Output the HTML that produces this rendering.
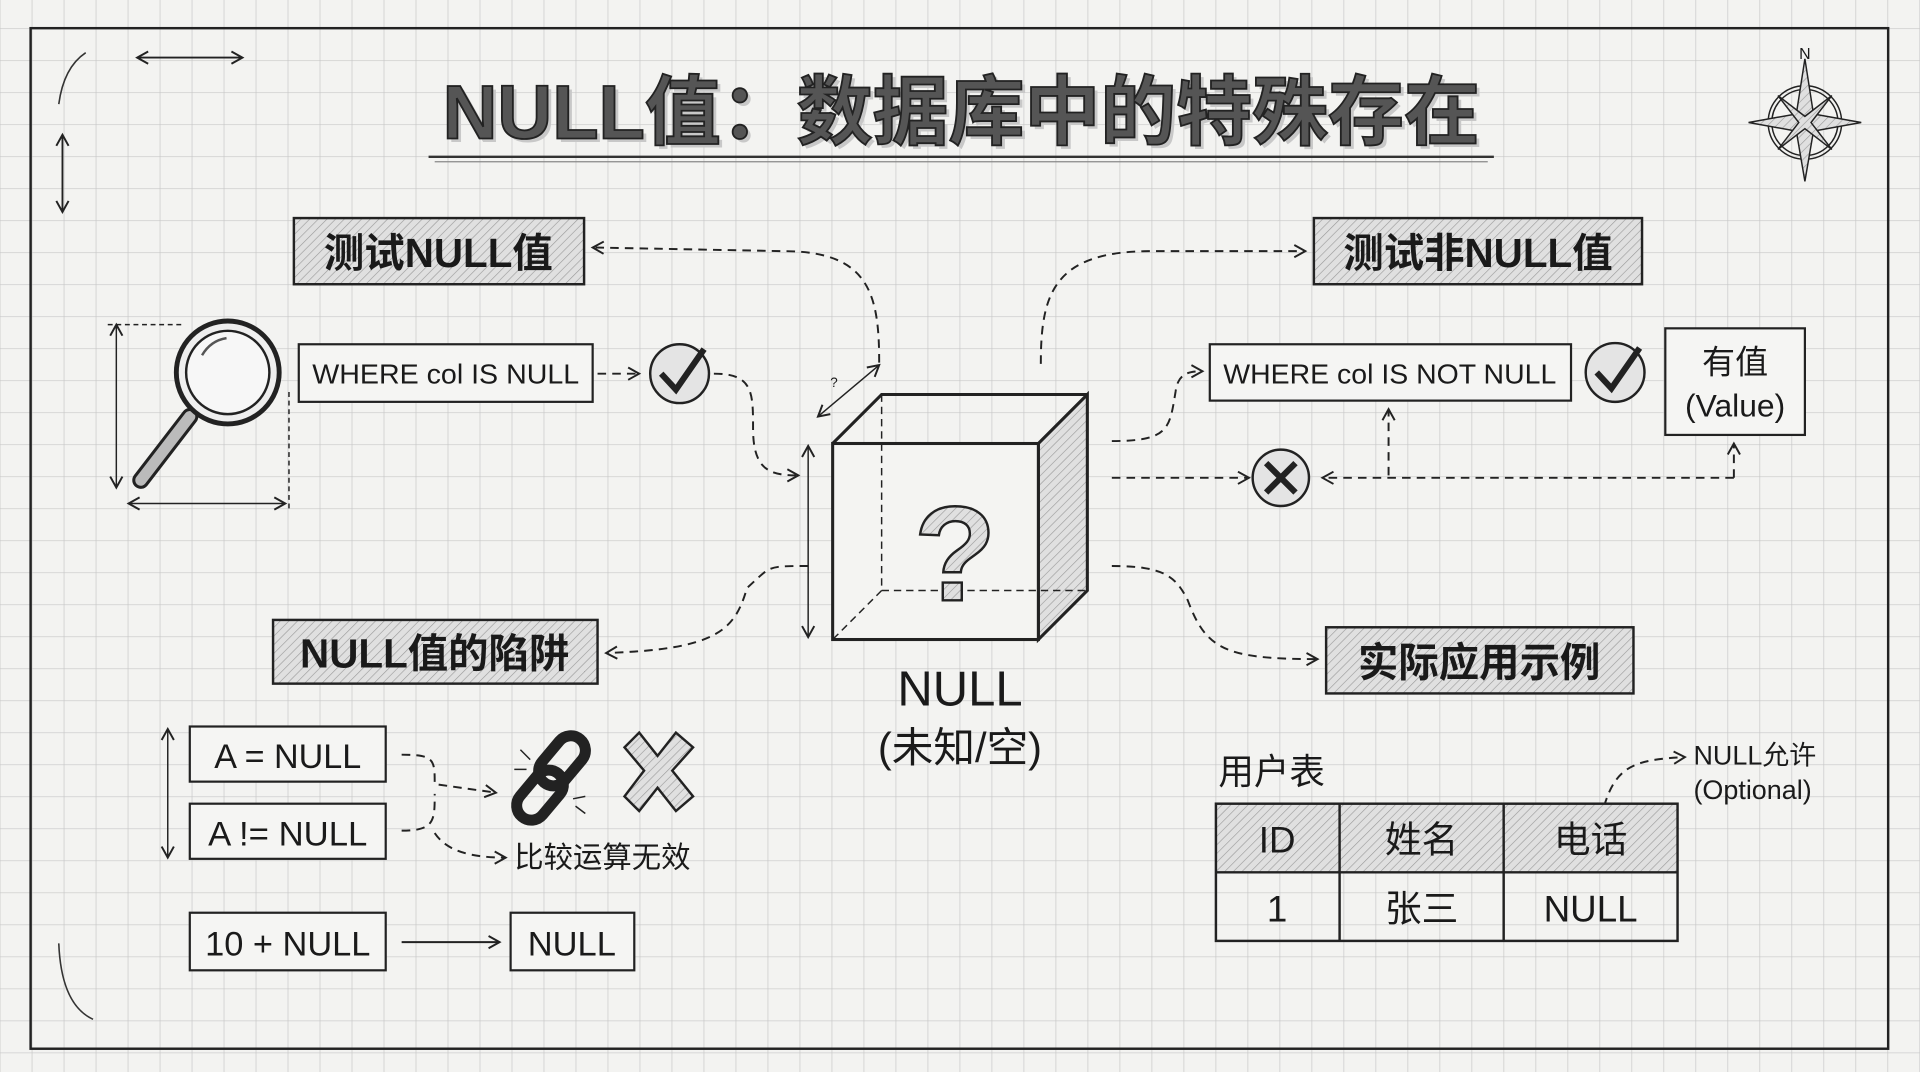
<!DOCTYPE html>
<html><head><meta charset="utf-8"><style>
html,body{margin:0;padding:0;width:1920px;height:1072px;overflow:hidden;background:#f2f2f0}
svg{display:block}
text{font-family:"Liberation Sans","Noto Sans CJK SC",sans-serif;fill:#1a1a1a}
</style></head><body>
<svg width="1920" height="1072" viewBox="0 0 1568 875" preserveAspectRatio="none" xmlns="http://www.w3.org/2000/svg">
<defs>
<pattern id="grid" x="25.9" y="23" width="26.13" height="26.13" patternUnits="userSpaceOnUse">
<path d="M0 0H26.13M0 0V26.13" stroke="#c6c6c6" stroke-width="1.1" fill="none"/>
</pattern>
<pattern id="hatch" width="5" height="5" patternUnits="userSpaceOnUse" patternTransform="rotate(45)">
<rect width="5" height="5" fill="#e0e0e0"/><line x1="0" y1="0" x2="0" y2="5" stroke="#999" stroke-width="1"/>
</pattern>
<marker id="ar" markerWidth="12" markerHeight="12" refX="10" refY="6" orient="auto-start-reverse" markerUnits="userSpaceOnUse">
<path d="M1 1L10 6L1 11" fill="none" stroke="#222" stroke-width="1.6"/>
</marker>
</defs>
<rect width="1568" height="875" fill="#f3f3f1"/>
<rect width="1568" height="875" fill="url(#grid)"/>
<rect x="25" y="23" width="1517" height="833" fill="none" stroke="#222" stroke-width="2"/>
<path d="M70 43 Q52 55 48 85" fill="none" stroke="#333" stroke-width="1.3"/>
<line x1="112" y1="47" x2="198" y2="47" stroke="#222" stroke-width="1.5" marker-end="url(#ar)" marker-start="url(#ar)"/>
<line x1="51" y1="110" x2="51" y2="173" stroke="#222" stroke-width="1.5" marker-end="url(#ar)" marker-start="url(#ar)"/>
<path d="M48 770 Q50 820 76 832" fill="none" stroke="#333" stroke-width="1.3"/>
<text x="785" y="113" font-size="62" font-weight="bold" text-anchor="middle" style="fill:#c8c8c8" dx="3" dy="3">NULL值：数据库中的特殊存在</text>
<text x="785" y="113" font-size="62" font-weight="bold" text-anchor="middle" style="fill:#555;stroke:#222;stroke-width:1.5">NULL值：数据库中的特殊存在</text>
<line x1="350" y1="128" x2="1220" y2="128" stroke="#333" stroke-width="2"/>
<line x1="355" y1="132" x2="1215" y2="132" stroke="#888" stroke-width="1"/>
<g transform="translate(1474,100)" stroke="#222" stroke-width="1.2">
<circle r="30" fill="none"/><circle r="27" fill="none"/>
<path d="M0 -52 L7 -7 L46 0 L7 7 L0 48 L-7 7 L-46 0 L-7 -7Z" fill="url(#hatch)"/>
<path d="M-22 -22 L0 -5 L22 -22 L5 0 L22 22 L0 5 L-22 22 L-5 0Z" fill="url(#hatch)"/>
</g>
<text x="1474" y="48" font-size="13" text-anchor="middle">N</text>
<g stroke="#222" stroke-width="2" fill="url(#hatch)">
<rect x="240" y="178" width="237" height="54"/>
<rect x="1073" y="178" width="268" height="54"/>
<rect x="223" y="506" width="265" height="52"/>
<rect x="1083" y="512" width="251" height="54"/>
</g>
<g font-size="33" font-weight="bold" text-anchor="middle">
<text x="358" y="218">测试NULL值</text>
<text x="1207" y="218">测试非NULL值</text>
<text x="355" y="545">NULL值的陷阱</text>
<text x="1208" y="552">实际应用示例</text>
</g>
<g stroke="#222" stroke-width="1.8" fill="#f5f5f3">
<rect x="244" y="281" width="240" height="47"/>
<rect x="988" y="281" width="295" height="46"/>
<rect x="1360" y="268" width="114" height="87"/>
</g>
<g font-size="23" text-anchor="middle">
<text x="364" y="313" textLength="218" lengthAdjust="spacingAndGlyphs">WHERE col IS NULL</text>
<text x="1135" y="313" textLength="272" lengthAdjust="spacingAndGlyphs">WHERE col IS NOT NULL</text>
<text x="1417" y="305" font-size="27">有值</text>
<text x="1417" y="340" font-size="26">(Value)</text>
</g>
<g stroke="#222" stroke-width="2" fill="#e4e4e4">
<circle cx="555" cy="305" r="24"/><circle cx="1319" cy="304" r="24"/>
<circle cx="1046" cy="390" r="23"/>
</g>
<path d="M540 305 L552 318 L575 285" fill="none" stroke="#222" stroke-width="5"/>
<path d="M1304 304 L1316 317 L1339 284" fill="none" stroke="#222" stroke-width="5"/>
<path d="M1034 378 L1058 402 M1058 378 L1034 402" stroke="#222" stroke-width="5"/>
<g stroke="#222" stroke-width="2">
<line x1="155" y1="340" x2="115" y2="392" stroke-width="14" stroke-linecap="round"/>
<line x1="155" y1="340" x2="115" y2="392" stroke="#bbb" stroke-width="9" stroke-linecap="round"/>
<circle cx="186" cy="304" r="42" fill="#eee" stroke-width="4"/>
<circle cx="186" cy="304" r="34" fill="#f7f7f7"/>
<path d="M165 290 Q172 278 185 276" fill="none" stroke="#555"/>
</g>
<g stroke="#222" stroke-width="1.2">
<line x1="95" y1="265" x2="95" y2="398" marker-end="url(#ar)" marker-start="url(#ar)"/>
<line x1="105" y1="411" x2="233" y2="411" marker-end="url(#ar)" marker-start="url(#ar)"/>
<line x1="88" y1="265" x2="150" y2="265" stroke-dasharray="4 3"/>
<line x1="236" y1="320" x2="236" y2="415" stroke-dasharray="4 3"/>
</g>
<g stroke="#222" stroke-width="2.5" fill="none">
<path d="M848 362 L888 322 L888 482 L848 522Z" fill="url(#hatch)"/>
<rect x="680" y="362" width="168" height="160" fill="#f4f4f2"/>
<path d="M680 362 L720 322 L888 322"/>
<path d="M720 322 V482 H888 M720 482 L680 522" stroke-width="1.2" stroke-dasharray="6 4"/>
</g>
<text x="780" y="490" font-size="110" font-weight="bold" text-anchor="middle" style="fill:url(#hatch);stroke:#222;stroke-width:2">?</text>
<g stroke="#222" stroke-width="1.2">
<line x1="660" y1="364" x2="660" y2="520" marker-end="url(#ar)" marker-start="url(#ar)"/>
<line x1="668" y1="340" x2="718" y2="298" marker-end="url(#ar)" marker-start="url(#ar)"/>
</g>
<text x="678" y="316" font-size="11">?</text>
<text x="784" y="576" font-size="40" text-anchor="middle">NULL</text>
<text x="784" y="622" font-size="34" text-anchor="middle">(未知/空)</text>
<g fill="none" stroke="#222" stroke-width="1.6" stroke-dasharray="7 5" marker-end="url(#ar)">
<path d="M718 296 C718 240 710 205 640 205 L484 202"/>
<path d="M850 297 C850 240 860 205 940 205 L1066 205"/>
<path d="M488 305 L522 305"/>
<path d="M583 305 C615 305 615 320 615 350 C615 385 630 388 652 388"/>
<path d="M908 360 C955 360 955 350 960 320 C962 305 970 303 982 303"/>
<path d="M908 390 L1020 390"/>
<path d="M1416 390 L1080 390"/>
<path d="M1416 390 L1416 362"/>
<path d="M1134 388 C1134 370 1134 350 1134 334"/>
<path d="M660 462 C625 462 630 462 610 480 C600 515 585 530 495 533"/>
<path d="M908 462 C950 462 960 470 970 490 C985 530 1000 538 1076 538"/>
<path d="M328 616 C355 616 355 620 355 640 L405 647"/>
<path d="M355 680 C365 695 385 700 413 700"/>
<path d="M1310 658 C1320 625 1335 620 1376 618"/>
</g>
<path d="M328 678 C355 678 355 670 355 648" fill="none" stroke="#222" stroke-width="1.6" stroke-dasharray="7 5"/>
<line x1="328" y1="769" x2="408" y2="769" stroke="#222" stroke-width="1.6" marker-end="url(#ar)"/>
<g stroke="#222" stroke-width="1.8" fill="#f5f5f3">
<rect x="155" y="593" width="160" height="45"/>
<rect x="155" y="656" width="160" height="45"/>
<rect x="155" y="745" width="160" height="47"/>
<rect x="417" y="745" width="101" height="47"/>
</g>
<g font-size="28" text-anchor="middle">
<text x="235" y="627" textLength="120" lengthAdjust="spacingAndGlyphs">A = NULL</text>
<text x="235" y="690" textLength="130" lengthAdjust="spacingAndGlyphs">A != NULL</text>
<text x="235" y="780" textLength="135" lengthAdjust="spacingAndGlyphs">10 + NULL</text>
<text x="467" y="780" textLength="72" lengthAdjust="spacingAndGlyphs">NULL</text>
</g>
<line x1="137" y1="595" x2="137" y2="700" stroke="#222" stroke-width="1.2" marker-end="url(#ar)" marker-start="url(#ar)"/>
<g stroke="#222" stroke-width="2">
<rect x="447" y="598" width="24" height="46" rx="12" transform="rotate(40 459 621)" fill="none" stroke-width="9"/>
<rect x="429" y="626" width="24" height="46" rx="12" transform="rotate(40 441 649)" fill="none" stroke-width="9"/>
<path d="M510 610 L522 598 L537 617 L552 598 L566 610 L549 629 L566 650 L552 662 L537 643 L522 662 L510 650 L526 629Z" fill="url(#hatch)"/>
<path d="M425 612 L433 620 M420 628 L430 628 M470 658 L478 664 M468 652 L478 650" stroke-width="1.2"/>
</g>
<text x="420" y="708" font-size="24">比较运算无效</text>
<text x="995" y="640" font-size="29">用户表</text>
<rect x="993" y="656" width="377" height="56" fill="url(#hatch)"/>
<g stroke="#222" stroke-width="2" fill="none">
<rect x="993" y="656" width="377" height="112"/>
<line x1="993" y1="712" x2="1370" y2="712"/>
<line x1="1094" y1="656" x2="1094" y2="768"/>
<line x1="1228" y1="656" x2="1228" y2="768"/>
</g>
<g font-size="30" text-anchor="middle">
<text x="1043" y="696">ID</text><text x="1161" y="696">姓名</text><text x="1299" y="696">电话</text>
<text x="1043" y="752">1</text><text x="1161" y="752">张三</text><text x="1299" y="752">NULL</text>
</g>
<text x="1383" y="624" font-size="22">NULL允许</text>
<text x="1383" y="652" font-size="22">(Optional)</text>
</svg>
</body></html>
